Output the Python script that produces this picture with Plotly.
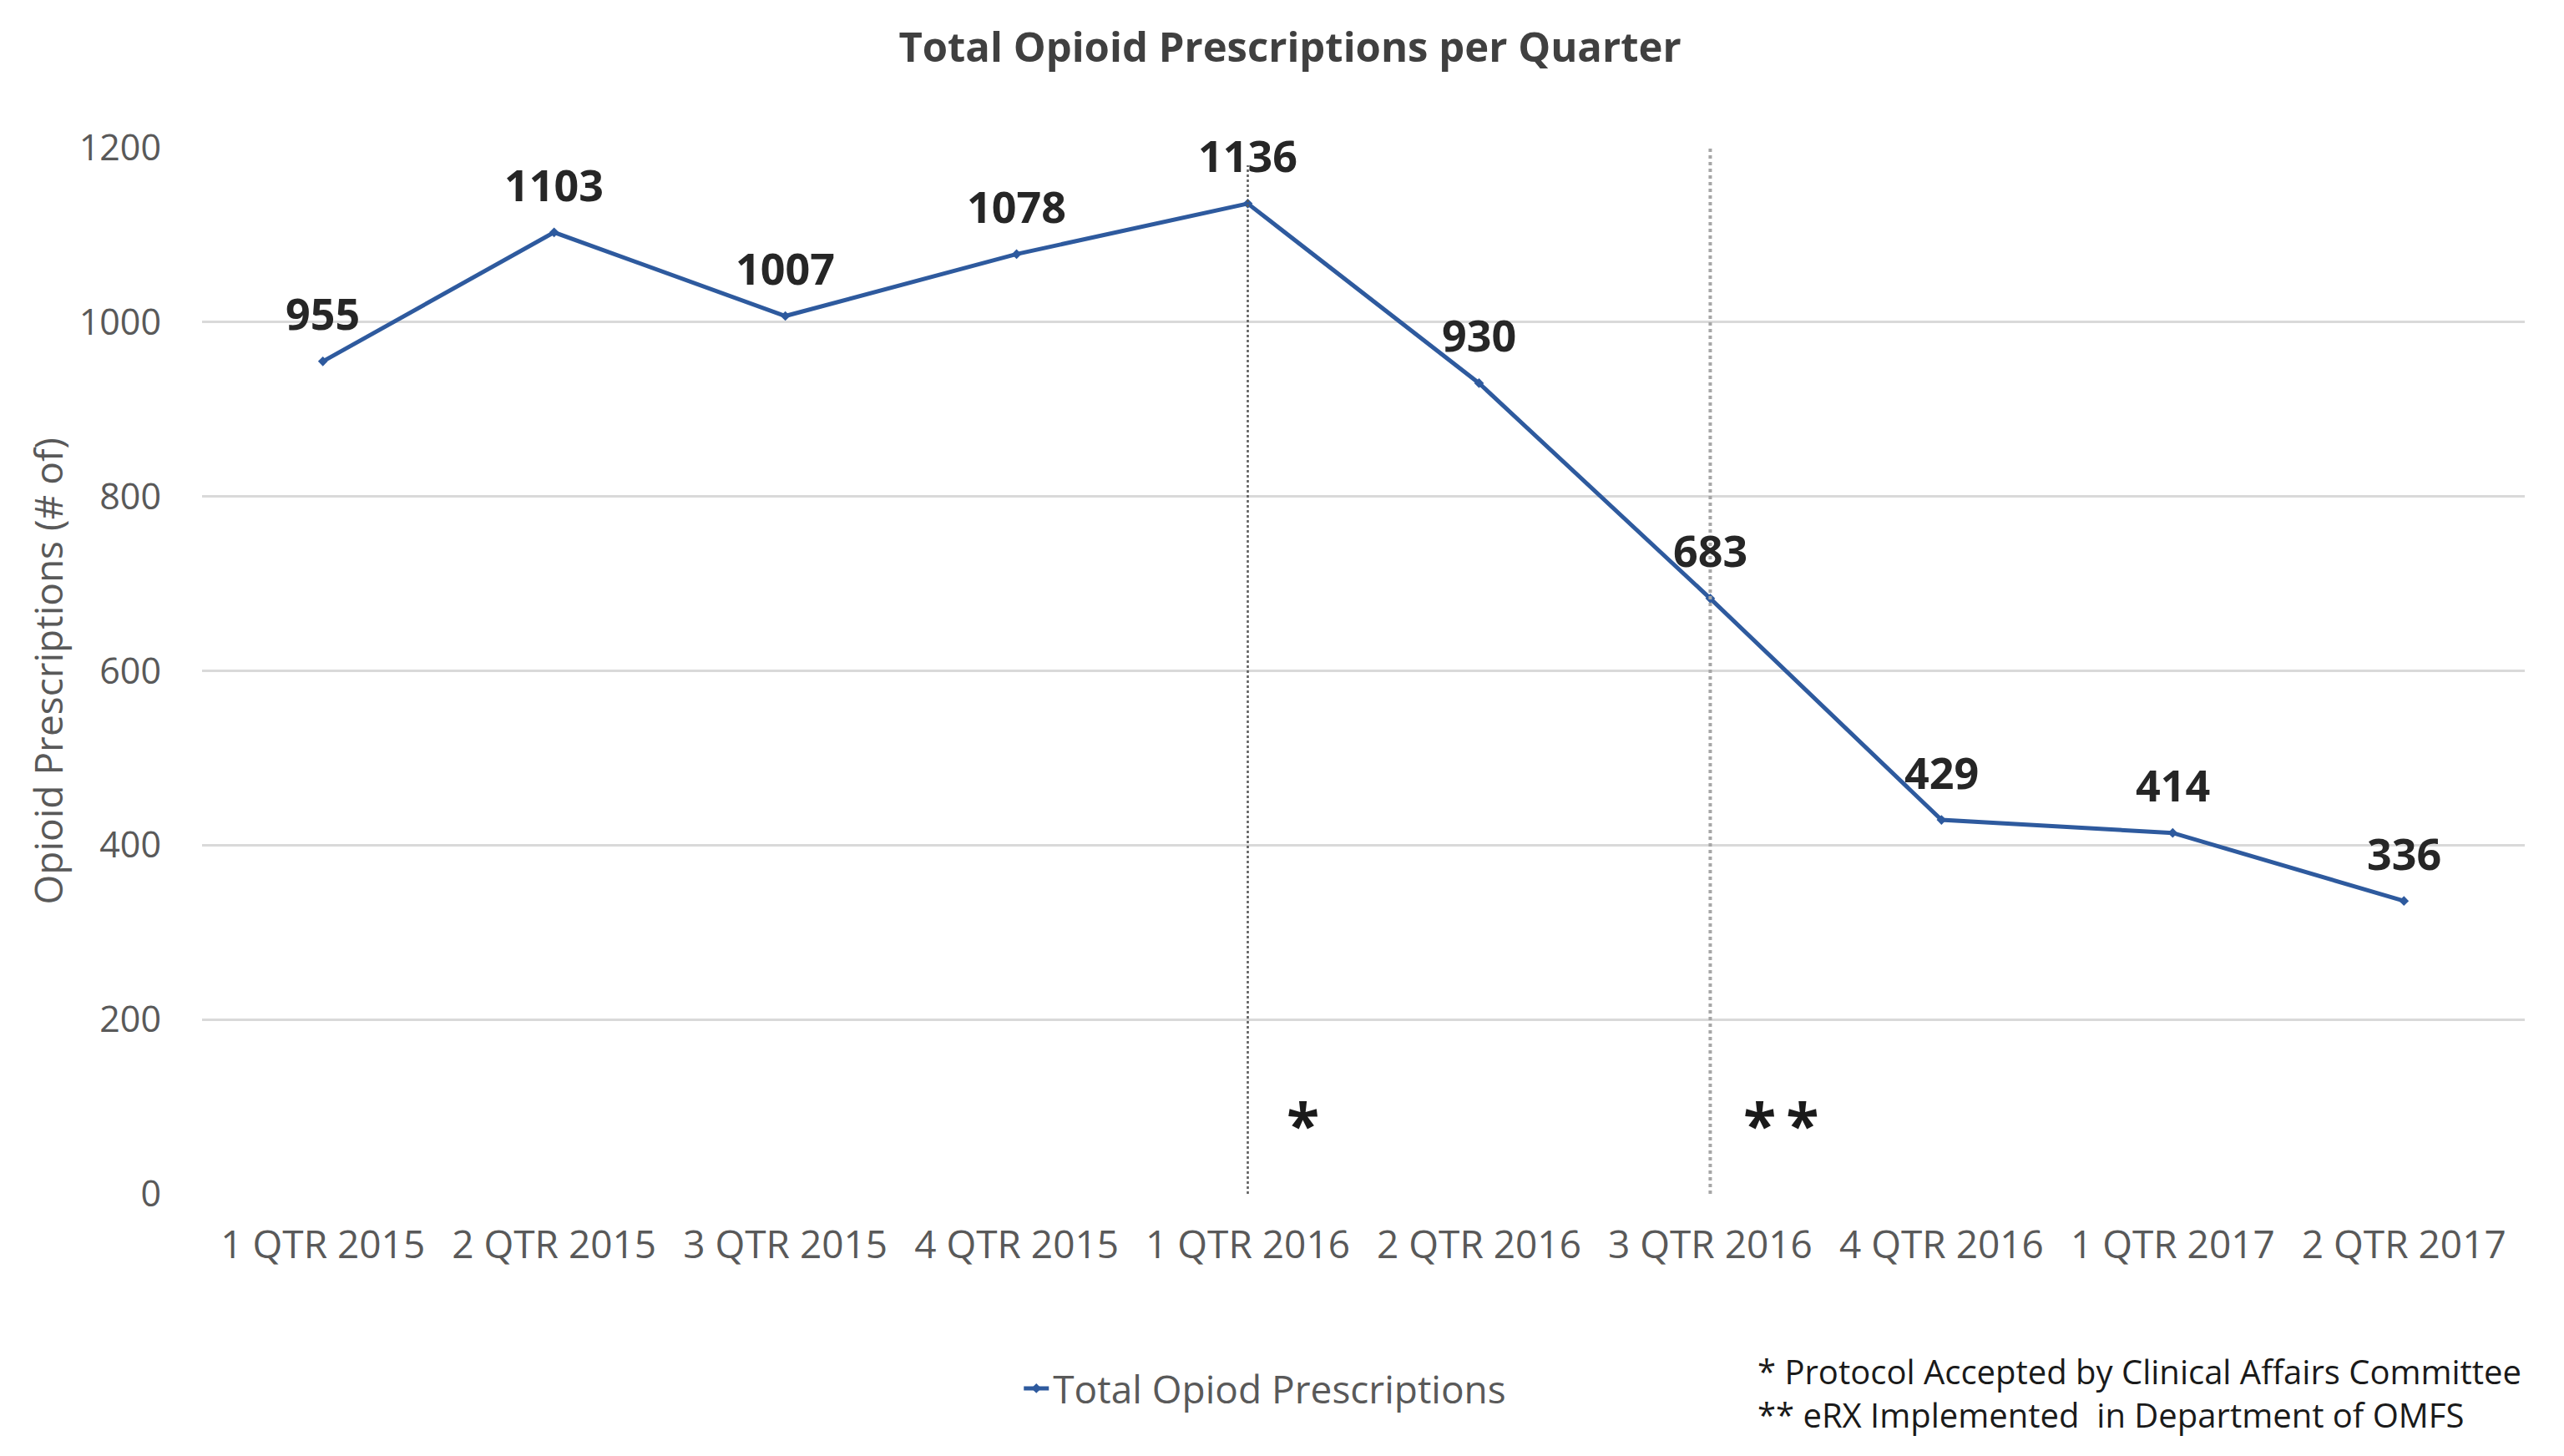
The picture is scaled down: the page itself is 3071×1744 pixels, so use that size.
import plotly.graph_objects as go

quarters = ["1 QTR 2015", "2 QTR 2015", "3 QTR 2015", "4 QTR 2015", "1 QTR 2016",
            "2 QTR 2016", "3 QTR 2016", "4 QTR 2016", "1 QTR 2017", "2 QTR 2017"]
prescriptions = [955, 1103, 1007, 1078, 1136, 930, 683, 429, 414, 336]

event_quarters = ["1 QTR 2016", "3 QTR 2016"]
event_tops = [1180, 1205]
event_marks = ["*", "*\u2009*"]
event_line_colors = ["#595959", "#A6A6A6"]
event_line_widths = [2.5, 4]
footnotes = ["* Protocol Accepted by Clinical Affairs Committee",
             "** eRX Implemented  in Department of OMFS"]

y_ticks = [0, 200, 400, 600, 800, 1000, 1200]

LINE = "#2E5A9E"
FONT = "Open Sans"

fig = go.Figure()
fig.add_trace(go.Scatter(
    x=quarters, y=prescriptions, mode="lines+markers",
    name="Total Opiod Prescriptions",
    line=dict(color=LINE, width=5),
    marker=dict(color=LINE, size=9, symbol="diamond"),
))

for q, v in zip(quarters, prescriptions):
    fig.add_annotation(x=q, y=v, text=str(v), showarrow=False, yshift=58,
                       font=dict(family=FONT, size=52, color="#262626", weight="bold"))

for q, top, mark, c, w in zip(event_quarters, event_tops, event_marks,
                              event_line_colors, event_line_widths):
    fig.add_shape(type="line", xref="x", yref="y", x0=q, x1=q, y0=0, y1=top,
                  line=dict(color=c, width=w, dash="dot"))
    fig.add_annotation(x=q, y=80, text=mark, showarrow=False,
                       xanchor="left", xshift=44 if len(mark) == 1 else 38,
                       font=dict(family=FONT, size=72, color="#1A1A1A", weight="bold"))

fig.add_annotation(xref="paper", yref="paper", x=-0.0665, y=0.5,
                   text="Opioid Prescriptions (# of)", textangle=-90, showarrow=False,
                   xanchor="center", yanchor="middle",
                   font=dict(family=FONT, size=46, color="#595959"))

fig.add_annotation(xref="paper", yref="paper", x=0.669, y=-0.1906,
                   text="<br>".join(footnotes), showarrow=False, align="left",
                   xanchor="left", yanchor="middle",
                   font=dict(family=FONT, size=40, color="#1A1A1A"))

fig.update_layout(
    width=3071, height=1744,
    margin=dict(l=234, r=55, t=169, b=322),
    paper_bgcolor="white", plot_bgcolor="white",
    title=dict(text="<b>Total Opioid Prescriptions per Quarter</b>",
               x=0.5005, xref="container", xanchor="center",
               y=1 - 49 / 1744, yref="container", yanchor="middle",
               font=dict(family=FONT, size=49, color="#404040")),
    showlegend=True,
    legend=dict(x=0.352, y=-0.186, xanchor="left", yanchor="middle",
                orientation="h", font=dict(family=FONT, size=46, color="#595959"),
                bgcolor="rgba(0,0,0,0)"),
    xaxis=dict(type="category", showgrid=False, zeroline=False, showline=False,
               ticks="", ticklabelstandoff=30,
               tickfont=dict(family=FONT, size=46, color="#595959")),
    yaxis=dict(range=[0, 1200], tickvals=y_ticks, showgrid=True,
               gridcolor="#D9D9D9", gridwidth=2.5, zeroline=False, showline=False,
               ticks="", ticklabelstandoff=48,
               tickfont=dict(family=FONT, size=43, color="#595959")),
)

fig.write_html("out.html")
